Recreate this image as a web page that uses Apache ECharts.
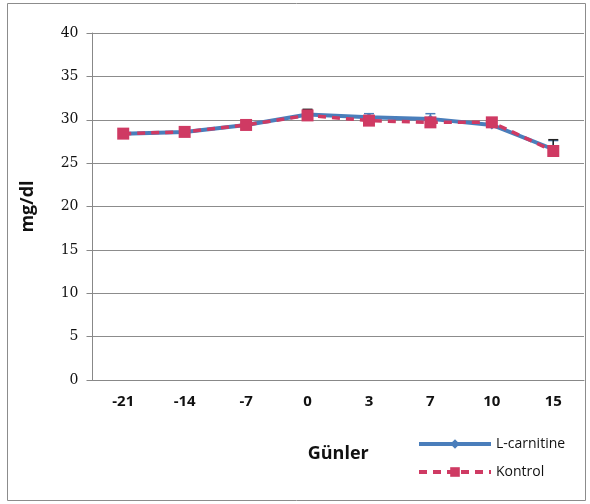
<!DOCTYPE html>
<html>
<head>
<meta charset="utf-8">
<script src="https://cdn.jsdelivr.net/npm/echarts@6/dist/echarts.min.js"></script>
<style>
  html, body { margin: 0; padding: 0; background: #fff; }
  #chart { width: 590px; height: 504px; }
</style>
</head>
<body>
<div id="chart"></div>
<script>
// Sampling days relative to treatment start
const days = ['-21', '-14', '-7', '0', '3', '7', '10', '15'];
// Group means (mg/dl)
const lcarnitine = [28.4, 28.6, 29.4, 30.6, 30.3, 30.1, 29.4, 26.6];
const kontrol = [28.4, 28.6, 29.4, 30.5, 29.9, 29.7, 29.7, 26.4];
// Standard errors (upper bars only)
const lcarnitineErr = [0.3, 0.4, 0.3, 0.5, 0.4, 0.6, 0.4, 1.0];
const kontrolErr = [0.3, 0.5, 0.3, 0.7, 0.4, 0.5, 0.3, 1.3];
// Y axis ticks
const yMin = 0, yMax = 40, yStep = 5;

const blue = '#4a7ebb';
const red = '#cf3a63';

function errorSeries(means, errs, color) {
  return {
    type: 'custom',
    z: 1,
    silent: true,
    data: means.map((m, i) => [i, m, m + errs[i]]),
    renderItem: function (params, api) {
      const lo = api.coord([api.value(0), api.value(1)]);
      const hi = api.coord([api.value(0), api.value(2)]);
      const w = 5;
      const style = { stroke: color, lineWidth: 1.5 };
      return {
        type: 'group',
        children: [
          { type: 'line', shape: { x1: hi[0], y1: hi[1], x2: lo[0], y2: lo[1] }, style: style },
          { type: 'line', shape: { x1: hi[0] - w, y1: hi[1], x2: hi[0] + w, y2: hi[1] }, style: style }
        ]
      };
    }
  };
}

const chart = echarts.init(document.getElementById('chart'));
chart.setOption({
  animation: false,
  backgroundColor: '#fff',
  graphic: [{
    type: 'rect',
    shape: { x: 7.5, y: 3.5, width: 578, height: 497 },
    style: { fill: 'none', stroke: '#8c8c8c', lineWidth: 1 },
    z: 0
  }],
  grid: { left: 92.5, right: 6, top: 33, bottom: 124 },
  legend: {
    orient: 'vertical',
    left: 412,
    top: 432,
    itemWidth: 72,
    itemHeight: 12,
    itemGap: 14,
    textStyle: { fontFamily: 'Open Sans', fontSize: 14, color: '#111' },
    data: [
      { name: 'L-carnitine', lineStyle: { width: 4 } },
      { name: 'Kontrol', lineStyle: { width: 4 } }
    ]
  },
  xAxis: {
    type: 'category',
    data: days,
    name: 'Günler',
    nameLocation: 'middle',
    nameGap: 65,
    nameTextStyle: { fontFamily: 'Open Sans', fontSize: 18, fontWeight: 'bold', color: '#111' },
    axisLine: { lineStyle: { color: '#888', width: 1 } },
    axisTick: { alignWithLabel: false, length: 5, lineStyle: { color: '#888' } },
    axisLabel: { fontFamily: 'Open Sans', fontSize: 15, fontWeight: 'bold', color: '#111', margin: 14 }
  },
  yAxis: {
    type: 'value',
    min: yMin,
    max: yMax,
    interval: yStep,
    name: 'mg/dl',
    nameLocation: 'middle',
    nameGap: 56,
    nameTextStyle: { fontFamily: 'Open Sans', fontSize: 18, fontWeight: 'bold', color: '#111' },
    axisLine: { show: true, lineStyle: { color: '#888', width: 1 } },
    axisTick: { show: true, length: 6, lineStyle: { color: '#888' } },
    axisLabel: { fontFamily: 'DejaVu Serif', fontSize: 14, color: '#111', margin: 14 },
    splitLine: { lineStyle: { color: '#8c8c8c', width: 1 } }
  },
  series: [
    errorSeries(lcarnitine, lcarnitineErr, blue),
    errorSeries(kontrol, kontrolErr, '#222'),
    {
      name: 'L-carnitine',
      type: 'line',
      z: 3,
      data: lcarnitine,
      symbol: 'diamond',
      symbolSize: 9,
      itemStyle: { color: blue },
      lineStyle: { color: blue, width: 4 }
    },
    {
      name: 'Kontrol',
      type: 'line',
      z: 4,
      data: kontrol,
      symbol: 'rect',
      symbolSize: 12,
      itemStyle: { color: red },
      lineStyle: { color: red, width: 3.5, type: [8, 6] }
    }
  ]
});
</script>
</body>
</html>
